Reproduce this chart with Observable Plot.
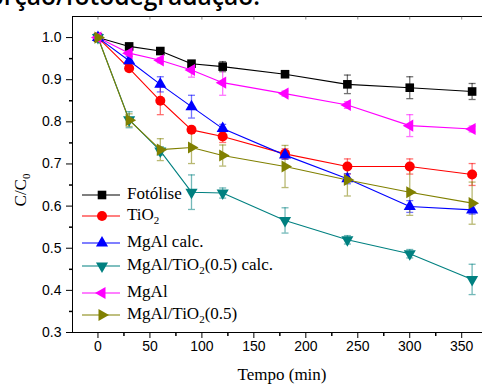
<!DOCTYPE html>
<html>
<head>
<meta charset="utf-8">
<script src="https://cdn.jsdelivr.net/npm/d3@7"></script>
<script src="https://cdn.jsdelivr.net/npm/@observablehq/plot@0.6"></script>
<style>
  html, body { margin: 0; padding: 0; background: #fff; }
  #wrap { position: relative; width: 482px; height: 385px; overflow: hidden; background: #fff; }
  #wrap svg.plot { position: absolute; left: 0; top: 0; }
  .ov { position: absolute; white-space: nowrap; color: #000; }
  .serif { font-family: "Liberation Serif", "Times New Roman", serif; font-size: 17px; }
  .serif sub { font-size: 11px; vertical-align: -4px; line-height: 0; }
</style>
</head>
<body>
<div id="wrap"></div>
<script>
// ---- data ----
const time = [0, 30, 60, 90, 120, 180, 240, 300, 360];
const seriesNames = ["Fotólise", "TiO2", "MgAl calc.", "MgAl/TiO2(0.5) calc.", "MgAl", "MgAl/TiO2(0.5)"];
const fotolise    = [1.0, 0.979, 0.968, 0.938, 0.931, 0.913, 0.889, 0.881, 0.872];
const fotoliseErr = [0, 0.004, 0.004, 0.007, 0.012, 0.004, 0.022, 0.026, 0.019];
const tio2        = [1.0, 0.927, 0.850, 0.781, 0.765, 0.724, 0.694, 0.694, 0.675];
const tio2Err     = [0, 0.007, 0.033, 0.008, 0.014, 0.012, 0.018, 0.018, 0.026];
const mgalCalc    = [1.0, 0.945, 0.889, 0.836, 0.784, 0.721, 0.665, 0.599, 0.591];
const mgalCalcErr = [0, 0.010, 0.018, 0.027, 0.010, 0.010, 0.012, 0.014, 0.010];
const mtCalc      = [1.0, 0.805, 0.731, 0.633, 0.631, 0.566, 0.520, 0.487, 0.426];
const mtCalcErr   = [0, 0.019, 0.010, 0.041, 0.012, 0.030, 0.010, 0.010, 0.036];
const mgal        = [1.0, 0.963, 0.946, 0.923, 0.893, 0.867, 0.840, 0.791, 0.783];
const mgalErr     = [0, 0.005, 0.006, 0.017, 0.030, 0.006, 0.008, 0.026, 0.007];
const mt          = [1.0, 0.804, 0.734, 0.739, 0.720, 0.694, 0.662, 0.633, 0.607];
const mtErr       = [0, 0.015, 0.026, 0.038, 0.025, 0.050, 0.038, 0.055, 0.050];
const xTicks = [0, 50, 100, 150, 200, 250, 300, 350];
const xMinor = [25, 75, 125, 175, 225, 275, 325];
const yTicks = [0.3, 0.4, 0.5, 0.6, 0.7, 0.8, 0.9, 1.0];
const yMinor = [0.35, 0.45, 0.55, 0.65, 0.75, 0.85, 0.95];
const titleText = "adsorção/fotodegradação.";

// ---- symbols ----
function poly(pts) {
  return { draw(ctx) { ctx.moveTo(pts[0][0], pts[0][1]); for (let i = 1; i < pts.length; i++) ctx.lineTo(pts[i][0], pts[i][1]); ctx.closePath(); } };
}
function tri(angleDeg, R) {
  const pts = [];
  for (let k = 0; k < 3; k++) {
    const a = (angleDeg + k * 120 - 90) * Math.PI / 180;
    pts.push([R * Math.cos(a), R * Math.sin(a)]);
  }
  return poly(pts);
}
const symSquare = poly([[-4.3, -4.3], [4.3, -4.3], [4.3, 4.3], [-4.3, 4.3]]);
const symCircle = { draw(ctx) { ctx.moveTo(5, 0); ctx.arc(0, 0, 5, 0, 2 * Math.PI); } };
const symUp = tri(0, 7), symDown = tri(180, 7), symLeft = tri(-90, 7), symRight = tri(90, 7);
const symCap = { draw(ctx) { ctx.moveTo(-3.5, 0); ctx.lineTo(3.5, 0); } };
const symTickLeft = (len) => ({ draw(ctx) { ctx.moveTo(0, 0); ctx.lineTo(-len, 0); } });
const symTickDown = (len) => ({ draw(ctx) { ctx.moveTo(0, 0); ctx.lineTo(0, len); } });

const series = [
  { name: seriesNames[0], v: fotolise, e: fotoliseErr, color: "#000000", sym: symSquare },
  { name: seriesNames[1], v: tio2, e: tio2Err, color: "#ff0000", sym: symCircle },
  { name: seriesNames[2], v: mgalCalc, e: mgalCalcErr, color: "#0000ff", sym: symUp },
  { name: seriesNames[3], v: mtCalc, e: mtCalcErr, color: "#008080", sym: symDown },
  { name: seriesNames[4], v: mgal, e: mgalErr, color: "#ff00ff", sym: symLeft },
  { name: seriesNames[5], v: mt, e: mtErr, color: "#808000", sym: symRight }
];

const xDom = [-24.5, 370], yDom = [0.3, 1.05];

const marks = [];
// frame top line and top ticks
marks.push(Plot.ruleY([yDom[1]], { stroke: "#000", strokeWidth: 1 }));
marks.push(Plot.dot(xTicks, { x: d => d, y: () => yDom[1], symbol: symTickDown(3), stroke: "#555", strokeWidth: 0.7 }));
// minor ticks
marks.push(Plot.dot(yMinor, { x: () => xDom[0], y: d => d, symbol: symTickLeft(3.5), stroke: "#000" }));
marks.push(Plot.dot(xMinor, { x: d => d, y: () => yDom[0], symbol: symTickDown(3.5), stroke: "#000" }));

for (const s of series) {
  const rows = time.map((t, i) => ({ t, v: s.v[i], e: s.e[i] }));
  const er = rows.filter(d => d.e > 0);
  marks.push(Plot.ruleX(er, { x: "t", y1: d => d.v - d.e, y2: d => d.v + d.e, stroke: s.color, strokeOpacity: 0.55, strokeWidth: 1.3 }));
  marks.push(Plot.dot(er, { x: "t", y: d => d.v - d.e, symbol: symCap, stroke: s.color, strokeOpacity: 0.55, strokeWidth: 1.3 }));
  marks.push(Plot.dot(er, { x: "t", y: d => d.v + d.e, symbol: symCap, stroke: s.color, strokeOpacity: 0.55, strokeWidth: 1.3 }));
}
for (const s of series) {
  const rows = time.map((t, i) => ({ t, v: s.v[i] }));
  marks.push(Plot.line(rows, { x: "t", y: "v", stroke: s.color, strokeWidth: 1.1 }));
}
for (const s of series) {
  const rows = time.map((t, i) => ({ t, v: s.v[i] }));
  marks.push(Plot.dot(rows, { x: "t", y: "v", symbol: s.sym, fill: s.color, stroke: "none" }));
}

const chart = Plot.plot({
  width: 482,
  height: 385,
  marginLeft: 72,
  marginRight: 0,
  marginTop: 16,
  marginBottom: 53,
  style: { fontFamily: "'Liberation Sans', Arial, sans-serif", fontSize: "14px", background: "transparent", color: "#000", overflow: "visible" },
  x: { domain: xDom, ticks: xTicks, tickSize: 6, tickPadding: 3, label: null, line: true, tickFormat: d => String(d) },
  y: { domain: yDom, ticks: yTicks, tickSize: 6, tickPadding: 5, label: null, line: true, tickFormat: d => d.toFixed(1) },
  marks
});
chart.classList.add("plot");
const wrap = document.getElementById("wrap");
wrap.appendChild(chart);

function fmt(name) {
  return name.replace(/TiO2/g, "TiO<sub>2</sub>");
}

// cut-off title at top (partly outside the picture, as in the reference)
const tsvg = d3.create("svg").attr("width", 482).attr("height", 16)
  .style("position", "absolute").style("left", "0px").style("top", "0px").style("overflow", "visible");
tsvg.append("text").attr("x", 260).attr("y", 5).attr("text-anchor", "end")
  .attr("font-family", "'Open Sans','Noto Sans',sans-serif").attr("font-size", 24.6).attr("font-weight", 600)
  .attr("fill", "#000").text(titleText);
wrap.appendChild(tsvg.node());

// axis labels
const ylab = document.createElement("div");
ylab.className = "ov serif";
ylab.innerHTML = "C/C<sub>0</sub>";
ylab.style.cssText += "left:21px; top:190px; transform: translate(-50%,-50%) rotate(-90deg);";
wrap.appendChild(ylab);

const xlab = document.createElement("div");
xlab.className = "ov serif";
xlab.textContent = "Tempo (min)";
xlab.style.cssText += "left:282px; top:366px; transform: translateX(-50%); line-height:1;";
wrap.appendChild(xlab);

// legend
const legendY = [195, 216, 243, 266, 293, 315];
series.forEach((s, i) => {
  const row = document.createElement("div");
  row.className = "ov serif";
  row.style.cssText += `left:82px; top:${legendY[i] - 10}px; height:20px; display:flex; align-items:center;`;
  const svg = d3.create("svg").attr("width", 40).attr("height", 20).style("overflow", "visible");
  svg.append("line").attr("x1", 0).attr("x2", 38).attr("y1", 10).attr("y2", 10).attr("stroke", s.color).attr("stroke-width", 1.2);
  const p = d3.path();
  s.sym.draw(p, 0);
  svg.append("path").attr("d", p.toString()).attr("transform", "translate(20,10)").attr("fill", s.color);
  row.appendChild(svg.node());
  const lab = document.createElement("span");
  lab.style.cssText = "margin-left:5px; position:relative; top:-1px;";
  lab.innerHTML = fmt(s.name);
  row.appendChild(lab);
  wrap.appendChild(row);
});
</script>
</body>
</html>
